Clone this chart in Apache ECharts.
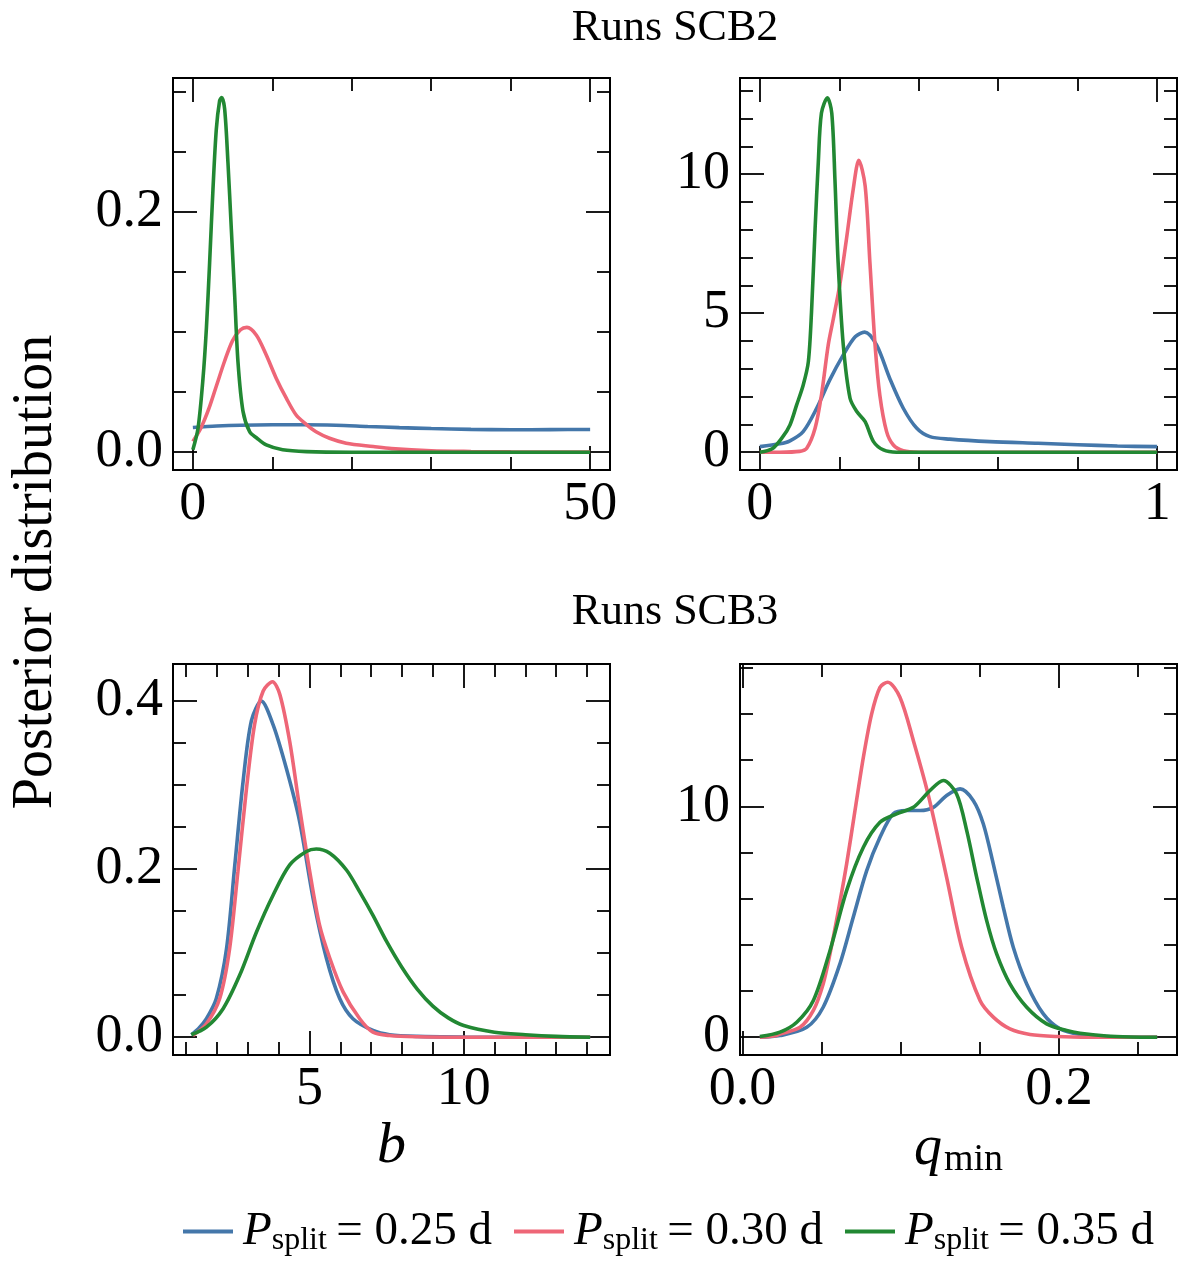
<!DOCTYPE html>
<html>
<head>
<meta charset="utf-8">
<script src="https://cdn.jsdelivr.net/npm/echarts@6/dist/echarts.min.js"></script>
<style>
html,body{margin:0;padding:0;background:#fff;}
#chart{width:1200px;height:1263px;}
</style>
</head>
<body>
<div id="chart"></div>
<script>
// ---------------- DATA ----------------
const seriesNames = ['0.25', '0.30', '0.35'];

// Runs SCB2, parameter b
const scb2_b_p25 = [[0,0.0206],[3,0.0218],[6,0.0225],[10,0.0228],[14,0.0228],[18,0.0224],[22,0.0214],[26,0.0205],[30,0.0197],[35,0.019],[40,0.0187],[45,0.0188],[50,0.0189]];
const scb2_b_p30 = [[0,0.009],[1,0.02],[2,0.036],[3,0.056],[4,0.076],[5,0.093],[6,0.102],[6.8,0.104],[8,0.0975],[9.24,0.081],[10.5,0.0615],[11.76,0.045],[13,0.031],[14.3,0.023],[15.5,0.017],[17.2,0.0116],[19.3,0.0075],[22.7,0.0047],[25,0.003],[30,0.0012],[35,0.0006],[40,0.0003],[50,0.0001]];
const scb2_b_p35 = [[0,0.002],[0.65,0.02],[1.27,0.061],[1.7,0.103],[2.11,0.158],[2.53,0.219],[2.95,0.269],[3.37,0.293],[3.62,0.2956],[4,0.286],[4.42,0.241],[4.84,0.186],[5.26,0.131],[5.68,0.075],[6.31,0.034],[7.15,0.017],[8,0.012],[9.24,0.006],[11.3,0.002],[14.3,0.0005],[20,0],[30,0],[40,0],[50,0]];

// Runs SCB2, parameter q_min
const scb2_q_p25 = [[0,0.2],[0.05,0.3],[0.0758,0.41],[0.109,0.74],[0.143,1.58],[0.176,2.6],[0.21,3.5],[0.24,4.15],[0.264,4.32],[0.294,3.85],[0.327,2.65],[0.361,1.58],[0.395,0.86],[0.428,0.56],[0.478,0.47],[0.579,0.38],[0.7,0.32],[0.8,0.27],[0.9,0.22],[1,0.2]];
const scb2_q_p30 = [[0,0],[0.05,0],[0.1,0.03],[0.118,0.14],[0.139,0.86],[0.155,2.05],[0.172,3.85],[0.185,4.8],[0.201,6.0],[0.218,7.67],[0.235,9.46],[0.249,10.5],[0.265,9.58],[0.277,6.83],[0.29,3.85],[0.302,2.05],[0.319,0.74],[0.336,0.26],[0.361,0.05],[0.4,0],[0.5,0],[0.7,0],[1,0]];
const scb2_q_p35 = [[0,0],[0.031,0.12],[0.057,0.54],[0.0758,0.98],[0.0926,1.7],[0.109,2.41],[0.122,3.25],[0.13,5.04],[0.139,8.03],[0.147,10.4],[0.155,12.2],[0.17,12.75],[0.181,12.2],[0.189,9.8],[0.197,6.83],[0.21,3.85],[0.227,1.94],[0.244,1.46],[0.265,1.1],[0.286,0.38],[0.311,0.08],[0.344,0],[0.5,0],[0.7,0],[1,0]];

// Runs SCB3, parameter b
const scb3_b_p25 = [[1.17,0.003],[1.4,0.01],[1.66,0.022],[1.98,0.046],[2.31,0.105],[2.58,0.205],[2.85,0.305],[3.12,0.377],[3.44,0.4],[3.82,0.372],[4.25,0.32],[4.68,0.257],[5.12,0.165],[5.55,0.094],[5.98,0.046],[6.41,0.022],[7.06,0.008],[7.6,0.003],[8.5,0.001],[10,0.0002],[12,0],[14.1,0]];
const scb3_b_p30 = [[1.22,0.002],[1.66,0.016],[2.09,0.046],[2.41,0.105],[2.68,0.197],[2.95,0.293],[3.22,0.372],[3.5,0.412],[3.8,0.423],[4.04,0.408],[4.36,0.352],[4.68,0.273],[5.01,0.197],[5.33,0.133],[5.66,0.094],[6.09,0.054],[6.63,0.022],[7.06,0.006],[7.6,0.002],[8.5,0.0005],[10,0],[12,0],[14.1,0]];
const scb3_b_p35 = [[1.17,0.003],[1.66,0.012],[2.2,0.034],[2.74,0.074],[3.28,0.125],[3.82,0.169],[4.36,0.205],[4.9,0.221],[5.22,0.224],[5.66,0.219],[6.2,0.199],[6.63,0.173],[7.06,0.145],[7.5,0.114],[8,0.083],[8.5,0.057],[9,0.037],[9.5,0.023],[10,0.014],[11,0.006],[12,0.003],[13,0.001],[14.1,0]];

// Runs SCB3, parameter q_min
const scb3_q_p25 = [[0.011,0],[0.0237,0.07],[0.0406,0.43],[0.051,1.3],[0.0616,3.18],[0.07,5.2],[0.0785,7.22],[0.0869,8.66],[0.0953,9.68],[0.1037,9.82],[0.1122,9.82],[0.1206,9.96],[0.129,10.47],[0.1375,10.76],[0.1459,10.25],[0.1522,9.24],[0.1585,7.5],[0.1648,5.63],[0.1711,3.9],[0.1796,2.31],[0.1901,1.01],[0.2006,0.36],[0.2133,0.12],[0.23,0.03],[0.245,0.005],[0.262,0]];
const scb3_q_p30 = [[0.011,0],[0.02,0.05],[0.0237,0.14],[0.0364,0.43],[0.0448,1.16],[0.051,2.31],[0.0553,3.61],[0.0606,5.49],[0.0658,7.5],[0.0711,9.82],[0.0764,12.13],[0.0816,14.0],[0.0869,15.16],[0.0918,15.38],[0.0995,14.73],[0.108,12.85],[0.1175,10.47],[0.129,6.93],[0.1385,3.9],[0.1501,1.59],[0.1585,0.87],[0.169,0.36],[0.1817,0.12],[0.1985,0.03],[0.22,0],[0.262,0]];
const scb3_q_p35 = [[0.011,0.03],[0.0237,0.22],[0.0343,0.65],[0.0448,1.59],[0.0553,3.75],[0.0658,6.35],[0.0764,8.23],[0.0869,9.31],[0.0974,9.68],[0.108,9.96],[0.1185,10.69],[0.1269,11.12],[0.1353,10.54],[0.1417,8.95],[0.148,6.93],[0.1543,5.05],[0.1606,3.61],[0.169,2.31],[0.1796,1.3],[0.1922,0.58],[0.2048,0.29],[0.2133,0.17],[0.23,0.05],[0.245,0.01],[0.262,0]];

// Tick values
const scb2_b_xMajor = [0, 50],        scb2_b_xMinor = [10, 20, 30, 40];
const scb2_b_yMajor = [0, 0.2],       scb2_b_yMinor = [0.05, 0.1, 0.15, 0.25, 0.3];
const scb2_q_xMajor = [0, 1],         scb2_q_xMinor = [0.2, 0.4, 0.6, 0.8];
const scb2_q_yMajor = [0, 5, 10],     scb2_q_yMinor = [1, 2, 3, 4, 6, 7, 8, 9, 11, 12, 13];
const scb3_b_xMajor = [5, 10],        scb3_b_xMinor = [1, 2, 3, 4, 6, 7, 8, 9, 11, 12, 13, 14];
const scb3_b_yMajor = [0, 0.2, 0.4],  scb3_b_yMinor = [0.05, 0.1, 0.15, 0.25, 0.3, 0.35];
const scb3_q_xMajor = [0, 0.2],       scb3_q_xMinor = [0.05, 0.1, 0.15, 0.25];
const scb3_q_yMajor = [0, 10],        scb3_q_yMinor = [2, 4, 6, 8, 12, 14, 16];

// ---------------- LAYOUT / STYLE ----------------
const FONT = "'Liberation Serif', 'DejaVu Serif', serif";
const COLORS = ['#4477AA', '#EE6677', '#228833'];

const panels = [
  { grid: {left: 173, top: 78, width: 437, height: 392},
    xr: [-2.5, 52.5], yr: [-0.01485, 0.31185],
    xMajor: scb2_b_xMajor, xMinor: scb2_b_xMinor, yMajor: scb2_b_yMajor, yMinor: scb2_b_yMinor,
    xFmt: v => String(Math.round(v)), yFmt: v => v.toFixed(1),
    data: [scb2_b_p25, scb2_b_p30, scb2_b_p35] },
  { grid: {left: 740, top: 78, width: 437, height: 392},
    xr: [-0.05, 1.05], yr: [-0.641, 13.461],
    xMajor: scb2_q_xMajor, xMinor: scb2_q_xMinor, yMajor: scb2_q_yMajor, yMinor: scb2_q_yMinor,
    xFmt: v => String(Math.round(v)), yFmt: v => String(Math.round(v)),
    data: [scb2_q_p25, scb2_q_p30, scb2_q_p35] },
  { grid: {left: 173, top: 664, width: 437, height: 391},
    xr: [0.576, 14.744], yr: [-0.02115, 0.44415],
    xMajor: scb3_b_xMajor, xMinor: scb3_b_xMinor, yMajor: scb3_b_yMajor, yMinor: scb3_b_yMinor,
    xFmt: v => String(Math.round(v)), yFmt: v => v.toFixed(1),
    name: '{b|b}', nameGap: 60,
    data: [scb3_b_p25, scb3_b_p30, scb3_b_p35] },
  { grid: {left: 740, top: 664, width: 437, height: 391},
    xr: [-0.00155, 0.27455], yr: [-0.77, 16.17],
    xMajor: scb3_q_xMajor, xMinor: scb3_q_xMinor, yMajor: scb3_q_yMajor, yMinor: scb3_q_yMinor,
    xFmt: v => v.toFixed(1), yFmt: v => String(Math.round(v)),
    name: '{q|q}{s|min}', nameGap: 64,
    data: [scb3_q_p25, scb3_q_p30, scb3_q_p35] }
];

const TICK_MAJOR = 24, TICK_MINOR = 13, TICK_W = 1.8;
const LABEL_SIZE = 54;

const grids = [], xAxes = [], yAxes = [], series = [];

panels.forEach((p, gi) => {
  grids.push(Object.assign({
    show: true, borderColor: '#000', borderWidth: 2, backgroundColor: 'transparent',
    outerBoundsMode: 'none', containLabel: false
  }, p.grid));

  const base = (pos, min, max) => ({
    gridIndex: gi, type: 'value', position: pos, min: min, max: max,
    axisLine: {show: false, onZero: false}, splitLine: {show: false}, minorTick: {show: false}
  });

  [['bottom', p.xMajor, TICK_MAJOR, true], ['bottom', p.xMinor, TICK_MINOR, false],
   ['top', p.xMajor, TICK_MAJOR, false], ['top', p.xMinor, TICK_MINOR, false]].forEach(([pos, vals, len, lab]) => {
    const ax = base(pos, p.xr[0], p.xr[1]);
    ax.axisTick = {show: true, inside: true, length: len, customValues: vals, lineStyle: {color: '#000', width: TICK_W}};
    ax.axisLabel = lab ? {show: true, customValues: vals, formatter: p.xFmt, fontSize: LABEL_SIZE,
                          fontFamily: FONT, color: '#000', margin: 8, hideOverlap: false}
                       : {show: false};
    if (lab && p.name) {
      ax.name = p.name;
      ax.nameLocation = 'middle';
      ax.nameGap = p.nameGap;
      ax.nameTextStyle = {
        fontFamily: FONT, fontSize: 56, color: '#000',
        rich: {
          b: {fontFamily: FONT, fontSize: 58, fontStyle: 'italic', color: '#000', lineHeight: 60, verticalAlign: 'middle'},
          q: {fontFamily: FONT, fontSize: 56, fontStyle: 'italic', color: '#000', lineHeight: 60, verticalAlign: 'middle'},
          s: {fontFamily: FONT, fontSize: 38, fontStyle: 'normal', color: '#000', lineHeight: 60, verticalAlign: 'bottom', padding: [0, 0, 0, 2]}
        }
      };
    }
    xAxes.push(ax);
  });

  [['left', p.yMajor, TICK_MAJOR, true], ['left', p.yMinor, TICK_MINOR, false],
   ['right', p.yMajor, TICK_MAJOR, false], ['right', p.yMinor, TICK_MINOR, false]].forEach(([pos, vals, len, lab]) => {
    const ax = base(pos, p.yr[0], p.yr[1]);
    ax.axisTick = {show: true, inside: true, length: len, customValues: vals, lineStyle: {color: '#000', width: TICK_W}};
    ax.axisLabel = lab ? {show: true, customValues: vals, formatter: p.yFmt, fontSize: LABEL_SIZE,
                          fontFamily: FONT, color: '#000', margin: 10, hideOverlap: false}
                       : {show: false};
    yAxes.push(ax);
  });

  p.data.forEach((d, si) => {
    series.push({
      type: 'line', name: seriesNames[si], data: d,
      xAxisIndex: gi * 4, yAxisIndex: gi * 4,
      showSymbol: false, symbol: 'none', smooth: 0.3,
      lineStyle: {color: COLORS[si], width: 3.6}, itemStyle: {color: COLORS[si]},
      silent: true, animation: false, z: 2 + si
    });
  });
});

const chart = echarts.init(document.getElementById('chart'), null, {renderer: 'canvas'});
chart.setOption({
  backgroundColor: '#fff',
  animation: false,
  grid: grids, xAxis: xAxes, yAxis: yAxes, series: series,
  legend: {
    left: 178, top: 1203,
    icon: 'rect', itemWidth: 50, itemHeight: 4, itemGap: 22,
    data: seriesNames,
    formatter: n => '{p|P}{s|split}{t|\u2009= ' + n + ' d}',
    textStyle: {
      fontFamily: FONT, color: '#000', fontSize: 46,
      rich: {
        p: {fontFamily: FONT, fontSize: 47, fontStyle: 'italic', color: '#000', lineHeight: 50, verticalAlign: 'middle', padding: [0, 0, 0, 5]},
        s: {fontFamily: FONT, fontSize: 32, color: '#000', lineHeight: 50, verticalAlign: 'bottom'},
        t: {fontFamily: FONT, fontSize: 47, color: '#000', lineHeight: 50, verticalAlign: 'middle'}
      }
    }
  },
  graphic: [
    {type: 'text', x: 675, y: 28, style: {text: 'Runs SCB2', font: '44px ' + FONT, fill: '#000', align: 'center', verticalAlign: 'middle'}},
    {type: 'text', x: 675, y: 612, style: {text: 'Runs SCB3', font: '44px ' + FONT, fill: '#000', align: 'center', verticalAlign: 'middle'}},
    {type: 'text', x: 36, y: 572, rotation: Math.PI / 2, style: {text: 'Posterior distribution', font: '56px ' + FONT, fill: '#000', align: 'center', verticalAlign: 'middle'}}
  ]
});
</script>
</body>
</html>
